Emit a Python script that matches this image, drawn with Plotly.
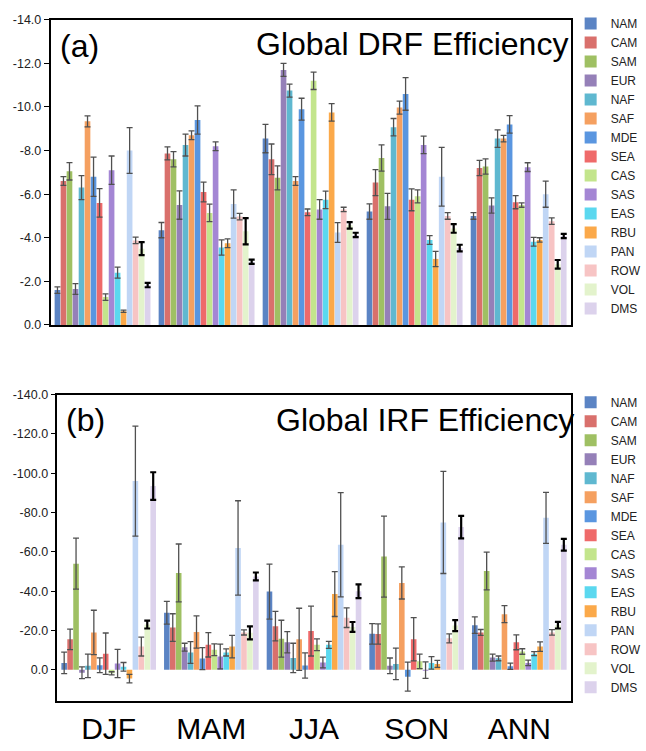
import plotly.graph_objects as go

W, H = 646, 751

seasons = ["DJF", "MAM", "JJA", "SON", "ANN"]
regions = ["NAM", "CAM", "SAM", "EUR", "NAF", "SAF", "MDE", "SEA",
           "CAS", "SAS", "EAS", "RBU", "PAN", "ROW", "VOL", "DMS"]
colors = ["#5b84c4", "#d9706c", "#9fc063", "#9580b8", "#5fb8d0", "#f5a060",
          "#5a96e0", "#ef6a6a", "#c3e58c", "#a486d4", "#5bd8ef", "#fba94a",
          "#c0d6f5", "#f7c4c4", "#e3f3cc", "#dcd2ec"]

# (a) Global DRF efficiency: values per region, order DJF, MAM, JJA, SON, ANN
drf_NAM = [-1.6, -4.35, -8.55, -5.2, -5.0]
drf_CAM = [-6.6, -7.87, -7.6, -6.53, -7.2]
drf_SAM = [-7.05, -7.6, -6.75, -7.66, -7.27]
drf_EUR = [-1.65, -5.5, -11.7, -5.44, -5.48]
drf_NAF = [-6.3, -8.25, -10.75, -9.07, -8.55]
drf_SAF = [-9.34, -8.7, -6.6, -9.97, -8.55]
drf_MDE = [-6.8, -9.4, -9.9, -10.6, -9.2]
drf_SEA = [-5.6, -6.1, -5.17, -5.74, -5.63]
drf_CAS = [-1.28, -5.14, -11.2, -5.9, -5.5]
drf_SAS = [-7.1, -8.2, -5.3, -8.26, -7.24]
drf_EAS = [-2.4, -3.55, -5.74, -3.9, -3.82]
drf_RBU = [-0.63, -3.75, -9.75, -3.03, -3.9]
drf_PAN = [-8.0, -5.55, -4.24, -6.8, -6.0]
drf_ROW = [-3.88, -4.97, -5.3, -5.0, -4.76]
drf_VOL = [-3.5, -4.3, -4.57, -4.43, -2.78]
drf_DMS = [-1.83, -2.9, -4.13, -3.53, -4.08]

drf_err_NAM = [0.15, 0.35, 0.65, 0.35, 0.15]
drf_err_CAM = [0.2, 0.3, 0.7, 0.6, 0.35]
drf_err_SAM = [0.4, 0.35, 0.55, 0.6, 0.35]
drf_err_EUR = [0.25, 0.65, 0.3, 0.6, 0.35]
drf_err_NAF = [0.55, 0.5, 0.3, 0.4, 0.4]
drf_err_SAF = [0.25, 0.2, 0.2, 0.3, 0.15]
drf_err_MDE = [0.9, 0.65, 0.5, 0.75, 0.4]
drf_err_SEA = [0.65, 0.45, 0.15, 0.5, 0.3]
drf_err_CAS = [0.15, 0.4, 0.4, 0.3, 0.1]
drf_err_SAS = [0.65, 0.2, 0.45, 0.4, 0.2]
drf_err_EAS = [0.25, 0.35, 0.4, 0.2, 0.2]
drf_err_RBU = [0.05, 0.2, 0.4, 0.35, 0.1]
drf_err_PAN = [1.05, 0.65, 0.45, 1.35, 0.6]
drf_err_ROW = [0.15, 0.15, 0.1, 0.15, 0.15]
drf_err_VOL = [0.3, 0.6, 0.15, 0.2, 0.2]
drf_err_DMS = [0.1, 0.1, 0.1, 0.15, 0.1]

# (b) Global IRF efficiency
irf_NAM = [-3.5, -29.0, -39.8, -18.3, -22.7]
irf_CAM = [-15.5, -21.5, -22.2, -18.2, -19.0]
irf_SAM = [-54.0, -49.3, -15.8, -57.6, -50.3]
irf_EUR = [1.5, -11.5, -14.0, -2.0, -6.2]
irf_NAF = [-2.0, -8.8, -6.0, -3.0, -5.8]
irf_SAF = [-19.0, -19.2, -15.5, -44.2, -28.3]
irf_MDE = [-2.3, -5.7, -2.2, 3.5, -1.8]
irf_SEA = [-8.2, -12.7, -19.7, -15.5, -14.0]
irf_CAS = [1.8, -10.2, -12.7, -4.3, -9.3]
irf_SAS = [-3.2, -6.8, -3.7, 0.2, -3.5]
irf_EAS = [-1.5, -8.8, -12.7, -3.5, -8.2]
irf_RBU = [4.5, -11.8, -38.5, -3.0, -11.8]
irf_PAN = [-96.0, -62.0, -63.6, -75.0, -77.3]
irf_ROW = [-11.8, -19.0, -26.5, -16.0, -19.0]
irf_VOL = [-23.0, -18.8, -21.8, -22.5, -22.7]
irf_DMS = [-93.5, -47.5, -40.0, -72.6, -63.6]

irf_err_NAM = [5.5, 5.8, 14.0, 5.2, 4.2]
irf_err_CAM = [5.2, 7.0, 7.5, 5.2, 1.5]
irf_err_SAM = [13.0, 14.7, 9.4, 20.6, 9.6]
irf_err_EUR = [3.0, 2.0, 5.4, 4.0, 1.8]
irf_err_NAF = [6.0, 5.5, 7.5, 8.0, 1.2]
irf_err_SAF = [11.3, 8.2, 15.8, 8.2, 4.3]
irf_err_MDE = [3.8, 5.6, 6.4, 7.4, 1.6]
irf_err_SEA = [10.5, 6.2, 12.7, 11.0, 3.8]
irf_err_CAS = [0.8, 3.0, 3.0, 3.7, 1.4]
irf_err_SAS = [7.2, 6.3, 2.7, 4.2, 1.4]
irf_err_EAS = [2.2, 1.8, 1.8, 3.2, 1.0]
irf_err_RBU = [2.2, 5.7, 11.4, 1.8, 2.4]
irf_err_PAN = [28.0, 24.0, 26.5, 26.0, 13.0]
irf_err_ROW = [4.8, 1.3, 5.0, 2.3, 1.4]
irf_err_VOL = [2.0, 3.3, 2.5, 2.8, 1.7]
irf_err_DMS = [7.0, 2.0, 3.5, 5.7, 3.0]

drf_vals = [drf_NAM, drf_CAM, drf_SAM, drf_EUR, drf_NAF, drf_SAF, drf_MDE, drf_SEA,
            drf_CAS, drf_SAS, drf_EAS, drf_RBU, drf_PAN, drf_ROW, drf_VOL, drf_DMS]
drf_errs = [drf_err_NAM, drf_err_CAM, drf_err_SAM, drf_err_EUR, drf_err_NAF, drf_err_SAF,
            drf_err_MDE, drf_err_SEA, drf_err_CAS, drf_err_SAS, drf_err_EAS, drf_err_RBU,
            drf_err_PAN, drf_err_ROW, drf_err_VOL, drf_err_DMS]
irf_vals = [irf_NAM, irf_CAM, irf_SAM, irf_EUR, irf_NAF, irf_SAF, irf_MDE, irf_SEA,
            irf_CAS, irf_SAS, irf_EAS, irf_RBU, irf_PAN, irf_ROW, irf_VOL, irf_DMS]
irf_errs = [irf_err_NAM, irf_err_CAM, irf_err_SAM, irf_err_EUR, irf_err_NAF, irf_err_SAF,
            irf_err_MDE, irf_err_SEA, irf_err_CAS, irf_err_SAS, irf_err_EAS, irf_err_RBU,
            irf_err_PAN, irf_err_ROW, irf_err_VOL, irf_err_DMS]

drf_ticks = [0, -2, -4, -6, -8, -10, -12, -14]
irf_ticks = [0, -20, -40, -60, -80, -100, -120, -140]

FONT = "Liberation Sans, Arial, Helvetica, sans-serif"

fig = go.Figure()

def err_style(name, arr):
    if name in ("VOL", "DMS"):
        return dict(type="data", array=arr, visible=True, color="#000000",
                    thickness=2.2, width=3)
    return dict(type="data", array=arr, visible=True, color="#505050",
                thickness=1.3, width=3)

for name, col, v, e in zip(regions, colors, drf_vals, drf_errs):
    fig.add_trace(go.Bar(x=seasons, y=v, name=name, marker=dict(color=col, line=dict(width=0)),
                         error_y=err_style(name, e), xaxis="x", yaxis="y",
                         legend="legend"))
for name, col, v, e in zip(regions, colors, irf_vals, irf_errs):
    fig.add_trace(go.Bar(x=seasons, y=v, name=name, marker=dict(color=col, line=dict(width=0)),
                         error_y=err_style(name, e), xaxis="x2", yaxis="y2",
                         legend="legend2"))

def px_x(p):
    return p / W

def px_y(p):
    return 1 - p / H

axis_common = dict(showline=True, linecolor="#000000", linewidth=1.5, mirror=True,
                   showgrid=False, zeroline=False)

fig.update_layout(
    width=W, height=H,
    margin=dict(l=0, r=0, t=0, b=0),
    paper_bgcolor="white", plot_bgcolor="white",
    font=dict(family=FONT, color="#222222"),
    barmode="group", bargap=0.075, bargroupgap=0.06,
    xaxis=dict(domain=[px_x(52), px_x(587)], anchor="y", showticklabels=False,
               ticks="", **axis_common),
    yaxis=dict(domain=[px_y(324), px_y(13)], anchor="x", range=[0, -14],
               tickmode="array", tickvals=drf_ticks,
               ticktext=["%.1f" % t for t in drf_ticks],
               ticks="outside", ticklen=5, tickcolor="#000000", tickwidth=1.2,
               tickfont=dict(size=12.5, color="#222222"), **axis_common),
    xaxis2=dict(domain=[px_x(59), px_x(587)], anchor="y2", showticklabels=True,
                ticks="", tickfont=dict(size=30, color="#000000"), **axis_common),
    yaxis2=dict(domain=[px_y(707), px_y(395)], anchor="x2", range=[15.8, -140],
                tickmode="array", tickvals=irf_ticks,
                ticktext=["%.1f" % t for t in irf_ticks],
                ticks="outside", ticklen=5, tickcolor="#000000", tickwidth=1.2,
                tickfont=dict(size=12.5, color="#222222"), **axis_common),
    legend=dict(x=px_x(587), y=px_y(2), xanchor="left", yanchor="top",
                bgcolor="rgba(0,0,0,0)", font=dict(size=12, color="#222222"),
                itemwidth=30, tracegroupgap=0),
    legend2=dict(x=px_x(587), y=px_y(388), xanchor="left", yanchor="top",
                 bgcolor="rgba(0,0,0,0)", font=dict(size=12, color="#222222"),
                 itemwidth=30, tracegroupgap=0),
    annotations=[
        dict(text="(a)", x=px_x(60), y=px_y(40), xref="paper", yref="paper",
             xanchor="left", yanchor="middle", showarrow=False,
             font=dict(size=32, color="#000000")),
        dict(text="Global DRF Efficiency", x=px_x(586), y=px_y(38), xref="paper",
             yref="paper", xanchor="right", yanchor="middle", showarrow=False,
             font=dict(size=32, color="#000000")),
        dict(text="(b)", x=px_x(66), y=px_y(421), xref="paper", yref="paper",
             xanchor="left", yanchor="middle", showarrow=False,
             font=dict(size=32, color="#000000")),
        dict(text="Global IRF Efficiency", x=px_x(592), y=px_y(421), xref="paper",
             yref="paper", xanchor="right", yanchor="middle", showarrow=False,
             font=dict(size=32, color="#000000")),
    ],
)

fig.write_html("out.html")
